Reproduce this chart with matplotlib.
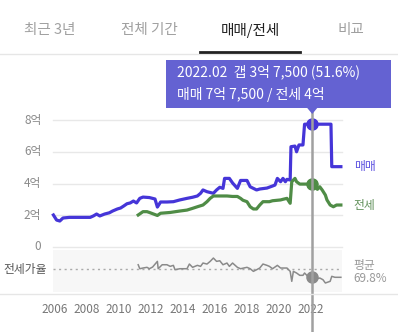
import matplotlib
matplotlib.use('Agg')
import matplotlib.pyplot as plt
from matplotlib.patches import Rectangle, Polygon
from matplotlib.lines import Line2D

plt.rcParams['font.family'] = ['Noto Sans CJK KR', 'DejaVu Sans']

W, H = 398, 332

tabs = ['최근 3년', '전체 기간', '매매/전세', '비교']
active_tab = 2

year_ticks = [2006, 2008, 2010, 2012, 2014, 2016, 2018, 2020, 2022]
value_ticks = [0, 2, 4, 6, 8]
value_labels = ['0', '2억', '4억', '6억', '8억']

# 매매 (억)
price_x = [2005.9, 2006.1, 2006.3, 2006.5, 2006.9, 2008.2, 2008.4, 2008.6, 2008.8, 2009.1,
           2009.4, 2009.6, 2009.9, 2010.1, 2010.3, 2010.5, 2010.7, 2010.9, 2011.1, 2011.3,
           2011.5, 2011.9, 2012.25, 2012.4, 2012.6, 2013.0, 2013.4, 2013.8, 2014.25, 2014.6,
           2014.9, 2015.1, 2015.25, 2015.5, 2015.9, 2016.1, 2016.3, 2016.5, 2016.6, 2016.9,
           2017.1, 2017.4, 2017.6, 2018.0, 2018.2, 2018.4, 2018.6, 2018.8, 2019.25, 2019.6,
           2019.75, 2019.9, 2020.1, 2020.25, 2020.4, 2020.5, 2020.7, 2020.75, 2021.0, 2021.1,
           2021.25, 2021.5, 2021.6, 2022.08, 2023.25, 2023.3, 2023.87]
price_y = [2.02, 1.70, 1.64, 1.83, 1.87, 1.87, 1.96, 2.08, 1.96, 2.08,
           2.16, 2.27, 2.40, 2.46, 2.59, 2.73, 2.78, 2.90, 2.78, 3.07,
           3.15, 3.12, 3.03, 2.52, 2.84, 2.84, 2.86, 2.97, 3.07, 3.14,
           3.22, 3.39, 3.60, 3.49, 3.39, 3.60, 3.77, 3.70, 4.33, 4.33,
           4.04, 3.70, 4.20, 4.20, 3.80, 3.70, 3.60, 3.66, 3.72, 3.85,
           3.91, 4.33, 4.12, 4.33, 4.12, 4.27, 4.23, 6.33, 6.37, 6.01,
           6.44, 6.44, 7.75, 7.75, 7.75, 5.07, 5.07]

# 전세 (억)
jeonse_x = [2011.2, 2011.5, 2011.75, 2011.9, 2012.4, 2012.6, 2013.2, 2013.8, 2014.25, 2014.6,
            2014.9, 2015.25, 2015.5, 2015.7, 2015.9, 2016.3, 2016.75, 2017.1, 2017.4, 2017.6,
            2017.75, 2018.0, 2018.2, 2018.4, 2018.6, 2018.8, 2019.0, 2019.4, 2019.6, 2020.1,
            2020.25, 2020.5, 2020.7, 2020.8, 2021.0, 2021.1, 2021.3, 2021.75, 2022.08, 2022.25,
            2022.4, 2022.55, 2022.7, 2022.9, 2023.0, 2023.2, 2023.4, 2023.6, 2023.87]
jeonse_y = [2.02, 2.23, 2.23, 2.18, 1.99, 2.13, 2.18, 2.27, 2.33, 2.44,
            2.54, 2.65, 2.86, 3.07, 3.22, 3.22, 3.22, 3.19, 3.19, 3.07,
            2.95, 2.86, 2.54, 2.40, 2.40, 2.65, 2.86, 2.86, 2.92, 2.97,
            3.01, 3.07, 2.76, 4.12, 4.33, 4.12, 3.97, 3.97, 4.00, 3.91,
            3.64, 3.80, 3.60, 3.28, 2.97, 2.65, 2.54, 2.65, 2.65]

# 전세가율 (%)
ratio_x = [2011.2, 2011.3, 2011.5, 2011.75, 2011.9, 2012.1, 2012.4, 2012.45, 2012.7, 2013.0,
           2013.2, 2013.4, 2013.5, 2013.8, 2014.25, 2014.4, 2014.6, 2014.9, 2015.1, 2015.25,
           2015.5, 2015.7, 2015.9, 2016.1, 2016.3, 2016.5, 2016.75, 2016.9, 2017.1, 2017.4,
           2017.6, 2018.0, 2018.2, 2018.4, 2018.6, 2018.8, 2019.0, 2019.25, 2019.4, 2019.6,
           2019.9, 2020.1, 2020.5, 2020.7, 2020.8, 2020.9, 2021.1, 2021.3, 2021.5, 2021.6,
           2021.8, 2022.08, 2022.4, 2022.55, 2022.75, 2022.9, 2023.2, 2023.3, 2023.5, 2023.87]
ratio_y = [80.3, 71.2, 72.8, 74.4, 71.2, 75.0, 88.0, 71.2, 80.3, 80.3,
           76.6, 78.9, 68.9, 71.2, 71.2, 81.9, 74.4, 78.9, 76.6, 84.2,
           81.9, 88.0, 95.6, 88.0, 89.4, 80.3, 84.2, 76.6, 84.2, 74.4,
           71.2, 74.4, 71.2, 65.2, 68.9, 72.8, 81.9, 78.9, 76.6, 71.2,
           78.9, 72.8, 72.8, 65.2, 42.4, 65.2, 61.4, 56.1, 56.1, 61.4,
           53.8, 51.6, 48.4, 50.0, 46.1, 38.6, 42.4, 53.8, 51.6, 51.6]
ratio_avg = 69.8

hover_x = 2022.08
hover_price = 7.75
hover_jeonse = 4.0
hover_ratio = 51.6
tip_line1 = '2022.02  갭 3억 7,500 (51.6%)'
tip_line2 = '매매 7억 7,500 / 전세 4억'

BLUE = '#4535d8'
GREEN = '#4f8c46'
GREY = '#8a8a8a'
TIP = '#6462d2'


def fx(x):
    return x / W


def fy(y):
    return 1 - y / H


fig = plt.figure(figsize=(W / 100, H / 100), dpi=100)

# tabs
tab_x = [50, 149, 250, 351]
for i, t in enumerate(tabs):
    fig.text(fx(tab_x[i]), fy(30), t, ha='center', va='center', fontsize=10.5,
             color='#222222' if i == active_tab else '#a0a0a0',
             fontweight='medium' if i == active_tab else 'normal')
fig.add_artist(Line2D([0, 1], [fy(54), fy(54)], color='#e6e6e6', lw=1))
fig.add_artist(Line2D([fx(200), fx(300)], [fy(52), fy(52)], color='#222222', lw=2))

# main chart
xlim = (2005.875, 2023.94)
ax = fig.add_axes([fx(53), fy(247), (342 - 53) / W, (247 - 112) / H])
ax.set_xlim(xlim)
ax.set_ylim(0, 8.52)
for v in value_ticks:
    ax.axhline(v, color='#e8e8e8', lw=1, zorder=0, clip_on=False)
ax.plot(price_x, price_y, color=BLUE, lw=2.3, solid_joinstyle='round', clip_on=False)
ax.plot(jeonse_x, jeonse_y, color=GREEN, lw=2.3, solid_joinstyle='round', clip_on=False)
ax.plot(hover_x, hover_price, 'o', ms=8, color=BLUE, clip_on=False, zorder=5)
ax.plot(hover_x, hover_jeonse, 'o', ms=8, color=GREEN, clip_on=False, zorder=5)
ax.axis('off')
for v, lab in zip(value_ticks, value_labels):
    ax.text(-0.04, v, lab, transform=ax.get_yaxis_transform(), ha='right', va='center',
            fontsize=8.5, color='#8a8a8a')
ax.text(1.04, price_y[-1], '매매', transform=ax.get_yaxis_transform(), ha='left',
        va='center', fontsize=8.5, color='#5a4ee0')
ax.text(1.04, jeonse_y[-1], '전세', transform=ax.get_yaxis_transform(), ha='left',
        va='center', fontsize=8.5, color='#5f8f58')

# ratio chart
rx = fig.add_axes([fx(53), fy(292), (342 - 53) / W, (292 - 250) / H])
rx.set_xlim(xlim)
rx.set_ylim(18, 114)
rx.set_facecolor('#f7f7f7')
for s in rx.spines.values():
    s.set_visible(False)
rx.set_yticks([])
rx.set_xticks(year_ticks)
rx.set_xticklabels([str(y) for y in year_ticks], fontsize=8.5, color='#777777')
rx.tick_params(axis='x', length=0, pad=8)
rx.axhline(ratio_avg, color='#aaaaaa', lw=1, ls=(0, (1.5, 2.5)))
rx.plot(ratio_x, ratio_y, color=GREY, lw=1.1)
rx.plot(hover_x, hover_ratio, 'o', ms=8, color='#8a8a8a', zorder=5)
rx.text(-0.02, ratio_avg, '전세가율', transform=rx.get_yaxis_transform(), ha='right',
        va='center', fontsize=8.5, color='#555555')
rx.text(1.04, ratio_avg + 8, '평균', transform=rx.get_yaxis_transform(), ha='left',
        va='center', fontsize=8.5, color='#999999')
rx.text(1.04, ratio_avg - 21, f'{ratio_avg}%', transform=rx.get_yaxis_transform(),
        ha='left', va='center', fontsize=8.5, color='#999999')
fig.add_artist(Line2D([0, 1], [fy(294), fy(294)], color='#e6e6e6', lw=1))

# hover line and tooltip
fig.canvas.draw()
hx = fig.transFigure.inverted().transform(ax.transData.transform((hover_x, 0)))[0]
fig.add_artist(Line2D([hx, hx], [0, fy(110)], color='#a0a0a0', lw=1.8, zorder=1))
fig.add_artist(Rectangle((fx(166), fy(108)), (391 - 166) / W, (108 - 60) / H,
                         facecolor=TIP, edgecolor='none', transform=fig.transFigure))
fig.add_artist(Polygon([(hx - fx(5), fy(108)), (hx + fx(5), fy(108)), (hx, fy(114))],
                       closed=True, facecolor=TIP, edgecolor='none',
                       transform=fig.transFigure))
fig.text(fx(177), fy(72), tip_line1, ha='left', va='center', fontsize=10, color='white')
fig.text(fx(177), fy(94), tip_line2, ha='left', va='center', fontsize=10, color='white')

fig.savefig('out.png', dpi=100)
